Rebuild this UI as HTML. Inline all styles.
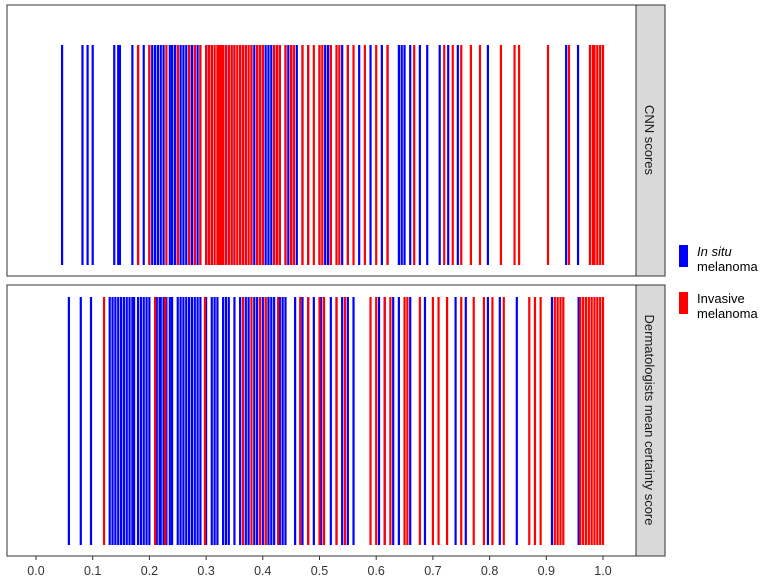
<!DOCTYPE html>
<html><head><meta charset="utf-8"><style>
body{margin:0;background:#fff;font-family:"Liberation Sans",sans-serif}
svg text{font-family:"Liberation Sans",sans-serif}
</style></head><body>
<svg id="c" width="768" height="580">
<rect x="7" y="5" width="629" height="271" fill="#fff" stroke="#333"/>
<rect x="7" y="285" width="629" height="271" fill="#fff" stroke="#333"/>
<g id="m1"></g>
<g id="m2"></g>
<rect x="636" y="5" width="29" height="271" fill="#d9d9d9" stroke="#333"/>
<rect x="636" y="285" width="29" height="271" fill="#d9d9d9" stroke="#333"/>
<text transform="translate(645,140) rotate(90)" text-anchor="middle" font-size="13" fill="#1a1a1a">CNN scores</text>
<text transform="translate(645,420) rotate(90)" text-anchor="middle" font-size="13" fill="#1a1a1a">Dermatologists mean certainty score</text>
<g id="ax"></g>
<rect x="679" y="245" width="9" height="22" fill="#0000ff"/>
<text x="697" y="256" font-size="13" font-style="italic">In situ</text>
<text x="697" y="271" font-size="13">melanoma</text>
<rect x="679" y="292" width="9" height="22" fill="#ff0000"/>
<text x="697" y="303" font-size="13">Invasive</text>
<text x="697" y="318" font-size="13">melanoma</text>
</svg>
<script>
const ticks=[0,0.1,0.2,0.3,0.4,0.5,0.6,0.7,0.8,0.9,1.0];
const tickLabels=["0.0","0.1","0.2","0.3","0.4","0.5","0.6","0.7","0.8","0.9","1.0"];
const cnnInSitu=[0.046,0.082,0.091,0.1,0.138,0.145,0.148,0.17,0.18,0.19,0.2,0.205,0.21,0.215,0.22,0.225,0.236,0.24,0.245,0.25,0.255,0.26,0.265,0.27,0.275,0.28,0.285,0.29,0.3,0.305,0.31,0.33,0.34,0.345,0.35,0.36,0.37,0.38,0.385,0.39,0.4,0.405,0.41,0.415,0.42,0.43,0.44,0.445,0.45,0.46,0.47,0.48,0.5,0.51,0.515,0.52,0.54,0.55,0.57,0.59,0.61,0.62,0.64,0.645,0.65,0.66,0.677,0.69,0.712,0.727,0.744,0.797,0.935,0.956];
const cnnInvasive=[0.18,0.2,0.23,0.25,0.27,0.28,0.29,0.3,0.305,0.31,0.315,0.32,0.322,0.325,0.328,0.33,0.335,0.34,0.345,0.35,0.355,0.36,0.365,0.37,0.375,0.38,0.39,0.395,0.4,0.42,0.425,0.43,0.44,0.45,0.455,0.47,0.48,0.49,0.5,0.505,0.52,0.53,0.535,0.55,0.56,0.58,0.6,0.62,0.667,0.72,0.735,0.75,0.767,0.783,0.82,0.844,0.852,0.903,0.94,0.977,0.982,0.985,0.99,0.995,1.0];
const dermInSitu=[0.058,0.079,0.097,0.13,0.135,0.14,0.145,0.15,0.155,0.16,0.165,0.17,0.173,0.18,0.185,0.19,0.195,0.2,0.213,0.218,0.22,0.225,0.23,0.236,0.24,0.25,0.255,0.26,0.265,0.27,0.275,0.28,0.285,0.29,0.3,0.31,0.315,0.32,0.33,0.335,0.34,0.35,0.36,0.37,0.375,0.385,0.39,0.4,0.405,0.41,0.415,0.42,0.43,0.435,0.44,0.457,0.47,0.48,0.49,0.503,0.52,0.53,0.54,0.55,0.56,0.605,0.615,0.63,0.64,0.66,0.686,0.74,0.758,0.797,0.818,0.848,0.91,0.957];
const dermInvasive=[0.12,0.21,0.228,0.298,0.365,0.38,0.395,0.405,0.427,0.466,0.48,0.5,0.508,0.53,0.545,0.59,0.6,0.615,0.625,0.65,0.655,0.677,0.7,0.71,0.725,0.75,0.772,0.79,0.805,0.825,0.87,0.88,0.89,0.915,0.92,0.925,0.93,0.96,0.965,0.97,0.975,0.98,0.985,0.99,0.995,1.0];
const NS="http://www.w3.org/2000/svg";
function xs(v){return 36+v*567;}
function draw(g,vals,color,y1,y2){
  vals.forEach(v=>{
    const l=document.createElementNS(NS,'line');
    
    
    l.setAttribute('x1',xs(v));l.setAttribute('x2',xs(v));
    l.setAttribute('y1',y1);l.setAttribute('y2',y2);
    l.setAttribute('stroke',color);l.setAttribute('stroke-width','2.2');
    g.appendChild(l);
  });
}
const m1=document.getElementById('m1'),m2=document.getElementById('m2');
draw(m1,cnnInSitu,'#0000ff',45,265);
draw(m1,cnnInvasive,'#ff0000',45,265);
draw(m2,dermInSitu,'#0000ff',297,545);
draw(m2,dermInvasive,'#ff0000',297,545);
const ax=document.getElementById('ax');
ticks.forEach((t,i)=>{
  const l=document.createElementNS(NS,'line');
  
  
  l.setAttribute('x1',xs(t));l.setAttribute('x2',xs(t));l.setAttribute('y1',556);l.setAttribute('y2',560);
  l.setAttribute('stroke','#333');ax.appendChild(l);
  const tx=document.createElementNS(NS,'text');
  
  
  tx.setAttribute('x',xs(t));tx.setAttribute('y',575);tx.setAttribute('text-anchor','middle');
  tx.setAttribute('font-size','12.5');tx.setAttribute('fill','#333');
  tx.textContent=tickLabels[i];ax.appendChild(tx);
});
</script>
</body></html>
